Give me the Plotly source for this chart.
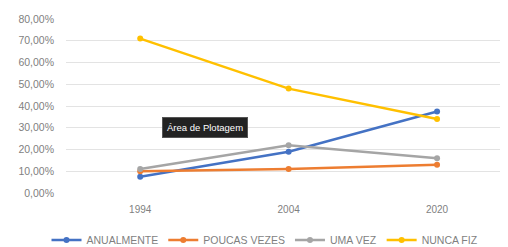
import plotly.graph_objects as go

years = ["1994", "2004", "2020"]
anualmente = [7.5, 19.0, 37.5]
poucas_vezes = [10.0, 11.0, 13.0]
uma_vez = [11.0, 22.0, 16.0]
nunca_fiz = [71.0, 48.0, 34.0]
y_ticks = [0, 10, 20, 30, 40, 50, 60, 70, 80]
y_tick_labels = ["0,00%", "10,00%", "20,00%", "30,00%", "40,00%", "50,00%", "60,00%", "70,00%", "80,00%"]

series = [
    ("ANUALMENTE", anualmente, "#4472C4"),
    ("POUCAS VEZES", poucas_vezes, "#ED7D31"),
    ("UMA VEZ", uma_vez, "#A5A5A5"),
    ("NUNCA FIZ", nunca_fiz, "#FFC000"),
]

fig = go.Figure()
for name, vals, col in series:
    fig.add_trace(go.Scatter(
        x=years, y=vals, name=name, mode="lines+markers",
        line=dict(color=col, width=2.5),
        marker=dict(color=col, size=6, symbol="circle"),
    ))

# page body adds an 8px offset, so the figure is sized to the visible area
fig.update_layout(
    width=500, height=239,
    margin=dict(l=58, r=0, t=11, b=54, autoexpand=False),
    paper_bgcolor="white", plot_bgcolor="white",
    font=dict(family="Liberation Sans, Arial, sans-serif", size=10, color="#7f7f7f"),
    showlegend=True,
    legend=dict(orientation="h", x=0.514, xanchor="center", xref="container",
                y=(239 - 232) / 239, yanchor="middle", yref="container",
                font=dict(size=10.5, color="#7f7f7f"), itemwidth=30, tracegroupgap=0),
    xaxis=dict(type="category", range=[-0.5, 2.478], showgrid=False, showline=False, zeroline=False,
               automargin=False,
               ticks="", ticklabelstandoff=9, tickfont=dict(size=10, color="#7f7f7f")),
    yaxis=dict(range=[0, 80], tickvals=y_ticks, ticktext=y_tick_labels,
               showgrid=True, gridcolor="#e3e3e3", gridwidth=1, zeroline=False,
               automargin=False,
               showline=False, ticks="", ticklabelstandoff=11,
               tickfont=dict(size=10.5, color="#7f7f7f")),
    annotations=[dict(
        text="Área de Plotagem", xref="paper", yref="paper",
        x=(205 - 66) / 442, y=(193 - 128) / 174, xanchor="center", yanchor="middle",
        showarrow=False,
        bgcolor="#222222", bordercolor="#555555", borderwidth=1, borderpad=4,
        font=dict(size=9.5, color="white", family="Liberation Sans, Arial, sans-serif"),
    )],
)

fig.write_html("out.html")
